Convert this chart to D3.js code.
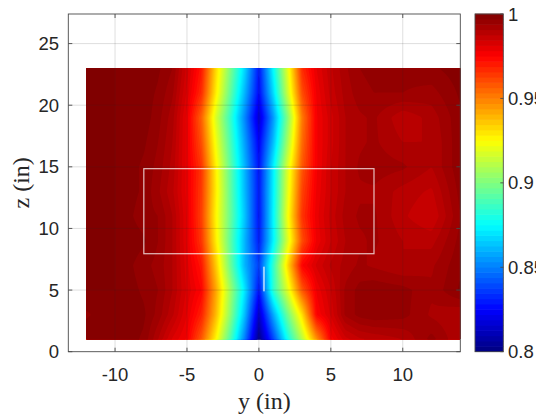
<!DOCTYPE html>
<html>
<head>
<meta charset="utf-8">
<script src="https://cdn.jsdelivr.net/npm/d3@7"></script>
<style>
  body { margin: 0; background: #fff; }
  svg { display: block; }
</style>
</head>
<body>
<script>
// Horizontal position y (in) of each measurement column
const yCols = [-12, -10, -8, -7, -6, -5, -4, -3, -2, -1, 0, 1, 2, 3, 4, 5, 6, 7, 8, 10, 12, 14];
// Height z (in) of each measurement row
const zRows = [1, 3, 5, 7, 9, 11, 13, 15, 17, 19, 21, 23];

// Normalised field value along each row, one entry per column in yCols
const rowZ1  = [1.000, 1.000, 0.997, 0.990, 0.982, 0.977, 0.958, 0.927, 0.891, 0.850, 0.802, 0.838, 0.878, 0.911, 0.946, 0.976, 0.984, 0.987, 0.988, 0.990, 0.996, 0.990];
const rowZ3  = [0.997, 1.000, 0.998, 0.994, 0.988, 0.980, 0.969, 0.939, 0.903, 0.863, 0.814, 0.858, 0.897, 0.931, 0.975, 0.983, 0.993, 0.996, 0.997, 0.996, 0.992, 0.990];
const rowZ5  = [1.000, 1.000, 0.997, 0.995, 0.990, 0.982, 0.975, 0.943, 0.907, 0.871, 0.828, 0.884, 0.919, 0.958, 0.978, 0.985, 0.993, 0.996, 0.997, 0.996, 0.993, 0.998];
const rowZ7  = [1.000, 1.000, 0.996, 0.994, 0.990, 0.981, 0.971, 0.936, 0.897, 0.861, 0.837, 0.885, 0.932, 0.975, 0.983, 0.988, 0.991, 0.993, 0.992, 0.990, 0.992, 0.997];
const rowZ9  = [1.000, 1.000, 0.998, 0.995, 0.990, 0.980, 0.965, 0.929, 0.894, 0.861, 0.830, 0.873, 0.918, 0.960, 0.978, 0.985, 0.990, 0.992, 0.993, 0.990, 0.989, 0.996];
const rowZ11 = [1.000, 1.000, 0.996, 0.995, 0.990, 0.980, 0.963, 0.927, 0.896, 0.864, 0.828, 0.874, 0.923, 0.965, 0.979, 0.986, 0.991, 0.993, 0.993, 0.988, 0.985, 0.995];
const rowZ13 = [1.000, 1.000, 0.997, 0.993, 0.988, 0.979, 0.964, 0.929, 0.895, 0.862, 0.829, 0.873, 0.920, 0.962, 0.978, 0.985, 0.990, 0.992, 0.992, 0.989, 0.987, 0.996];
const rowZ15 = [1.000, 1.000, 0.997, 0.994, 0.989, 0.979, 0.965, 0.928, 0.894, 0.861, 0.828, 0.872, 0.918, 0.958, 0.977, 0.985, 0.990, 0.993, 0.994, 0.993, 0.990, 0.997];
const rowZ17 = [1.000, 1.000, 0.998, 0.995, 0.990, 0.979, 0.960, 0.923, 0.890, 0.857, 0.824, 0.862, 0.908, 0.954, 0.977, 0.984, 0.990, 0.992, 0.993, 0.990, 0.990, 0.997];
const rowZ19 = [1.000, 1.000, 0.999, 0.996, 0.991, 0.979, 0.956, 0.918, 0.886, 0.852, 0.816, 0.855, 0.901, 0.951, 0.977, 0.984, 0.990, 0.992, 0.993, 0.988, 0.991, 0.997];
const rowZ21 = [1.000, 1.000, 0.999, 0.997, 0.993, 0.982, 0.967, 0.929, 0.895, 0.861, 0.826, 0.868, 0.915, 0.960, 0.978, 0.986, 0.991, 0.994, 0.995, 0.995, 0.994, 0.998];
const rowZ23 = [1.000, 1.000, 1.000, 0.998, 0.995, 0.984, 0.971, 0.933, 0.900, 0.868, 0.829, 0.875, 0.920, 0.967, 0.980, 0.987, 0.992, 0.995, 0.996, 0.996, 0.997, 0.999];

// Outlined region and short marker segment
const boxY = [-8, 8];
const boxZ = [7.95, 14.85];
const markerY = 0.35;
const markerZ = [4.9, 6.9];

// Axis ticks and colour range
const yTicks = [-10, -5, 0, 5, 10];
const zTicks = [0, 5, 10, 15, 20, 25];
const cTicks = [0.8, 0.85, 0.9, 0.95, 1];
const cRange = [0.8, 1];

const grid = [rowZ1, rowZ3, rowZ5, rowZ7, rowZ9, rowZ11, rowZ13, rowZ15, rowZ17, rowZ19, rowZ21, rowZ23];

const W = 536, H = 418;
const plot = { left: 68.3, right: 460.3, top: 14, bottom: 351.7 };
const cbar = { left: 475, right: 503.3, top: 14, bottom: 351.7 };

const svg = d3.select("body").append("svg").attr("width", W).attr("height", H);

const xs = d3.scaleLinear().domain([-13.25, 14]).range([plot.left, plot.right]);
const zs = d3.scaleLinear().domain([0, 27.4]).range([plot.bottom, plot.top]);

// MATLAB-style jet colormap
function jet(t) {
  const c = v => Math.max(0, Math.min(1, v));
  const r = c(1.5 - Math.abs(4 * t - 3));
  const g = c(1.5 - Math.abs(4 * t - 2));
  const b = c(1.5 - Math.abs(4 * t - 1));
  return d3.rgb(r * 255, g * 255, b * 255).toString();
}
const cScale = d3.scaleLinear().domain(cRange).range([0, 1]).clamp(true);
const colorOf = v => jet(cScale(v));

// Bilinear interpolation of the measured grid
function sample(y, z) {
  const clamp = (v, a, b) => Math.max(a, Math.min(b, v));
  const i = clamp(d3.bisectRight(yCols, y) - 1, 0, yCols.length - 2);
  const j = clamp(d3.bisectRight(zRows, z) - 1, 0, zRows.length - 2);
  const ty = clamp((y - yCols[i]) / (yCols[i + 1] - yCols[i]), 0, 1);
  const tz = clamp((z - zRows[j]) / (zRows[j + 1] - zRows[j]), 0, 1);
  const a = grid[j][i] * (1 - ty) + grid[j][i + 1] * ty;
  const b = grid[j + 1][i] * (1 - ty) + grid[j + 1][i + 1] * ty;
  return a * (1 - tz) + b * tz;
}

// Resample onto a fine raster and draw filled contours
const y0 = yCols[0], y1 = yCols[yCols.length - 1];
const z0 = zRows[0], z1 = zRows[zRows.length - 1];
const nx = 260, ny = 220;
const dy = (y1 - y0) / nx, dz = (z1 - z0) / ny;
const values = new Float64Array(nx * ny);
for (let r = 0; r < ny; r++) {
  const z = z0 + (r + 0.5) * dz;
  for (let c = 0; c < nx; c++) {
    values[r * nx + c] = sample(y0 + (c + 0.5) * dy, z);
  }
}

const step = 0.0025;
const levels = [0.7].concat(d3.range(0.8, 1.0 + step / 2, step));
const contours = d3.contours().size([nx, ny]).thresholds(levels)(values);

const proj = d3.geoTransform({
  point(px, py) { this.stream.point(xs(y0 + px * dy), zs(z0 + py * dz)); }
});
const path = d3.geoPath(proj);

svg.append("g").attr("class", "field")
  .selectAll("path")
  .data(contours)
  .join("path")
  .attr("d", path)
  .attr("fill", (d, k) => {
    const lo = d.value < 0.8 ? 0.8 : d.value;
    const hi = k + 1 < levels.length ? levels[k + 1] : 1.0;
    return colorOf(Math.min(1, (lo + Math.max(lo, hi)) / 2));
  })
  .attr("stroke", "none");

// Grid lines
const gridG = svg.append("g").attr("stroke", "rgb(38,38,38)").attr("stroke-opacity", 0.15).attr("stroke-width", 1);
gridG.selectAll("line.gx").data(yTicks).join("line")
  .attr("x1", d => xs(d)).attr("x2", d => xs(d))
  .attr("y1", plot.top).attr("y2", plot.bottom);
gridG.selectAll("line.gz").data(zTicks.filter(d => d > 0)).join("line")
  .attr("x1", plot.left).attr("x2", plot.right)
  .attr("y1", d => zs(d)).attr("y2", d => zs(d));

// Outlined region and marker
svg.append("rect")
  .attr("x", xs(boxY[0])).attr("y", zs(boxZ[1]))
  .attr("width", xs(boxY[1]) - xs(boxY[0]))
  .attr("height", zs(boxZ[0]) - zs(boxZ[1]))
  .attr("fill", "none").attr("stroke", "#ffffff").attr("stroke-opacity", 0.75).attr("stroke-width", 1.2);
svg.append("line")
  .attr("x1", xs(markerY)).attr("x2", xs(markerY))
  .attr("y1", zs(markerZ[0])).attr("y2", zs(markerZ[1]))
  .attr("stroke", "#ffffff").attr("stroke-opacity", 0.6).attr("stroke-width", 2);

// Axes box with inward ticks
const axisColor = "#4a4a4a";
svg.append("rect")
  .attr("x", plot.left).attr("y", plot.top)
  .attr("width", plot.right - plot.left).attr("height", plot.bottom - plot.top)
  .attr("fill", "none").attr("stroke", axisColor).attr("stroke-width", 0.9);

const tickLen = 4;
const tg = svg.append("g").attr("stroke", axisColor).attr("stroke-width", 0.9);
yTicks.forEach(t => {
  tg.append("line").attr("x1", xs(t)).attr("x2", xs(t)).attr("y1", plot.bottom).attr("y2", plot.bottom - tickLen);
  tg.append("line").attr("x1", xs(t)).attr("x2", xs(t)).attr("y1", plot.top).attr("y2", plot.top + tickLen);
});
zTicks.forEach(t => {
  tg.append("line").attr("x1", plot.left).attr("x2", plot.left + tickLen).attr("y1", zs(t)).attr("y2", zs(t));
  tg.append("line").attr("x1", plot.right).attr("x2", plot.right - tickLen).attr("y1", zs(t)).attr("y2", zs(t));
});

const tickFont = "'Liberation Sans', Arial, sans-serif";
const textColor = "#262626";
svg.append("g").selectAll("text").data(yTicks).join("text")
  .attr("x", d => xs(d)).attr("y", 380.5)
  .attr("text-anchor", "middle")
  .attr("font-family", tickFont).attr("font-size", 18.5).attr("fill", textColor)
  .text(d => d);
svg.append("g").selectAll("text").data(zTicks).join("text")
  .attr("x", 59).attr("y", d => zs(d) + 6.6)
  .attr("text-anchor", "end")
  .attr("font-family", tickFont).attr("font-size", 18.5).attr("fill", textColor)
  .text(d => d);

// Axis titles
const titleFont = "'Liberation Serif', 'Times New Roman', serif";
svg.append("text")
  .attr("x", (plot.left + plot.right) / 2).attr("y", 409)
  .attr("text-anchor", "middle")
  .attr("font-family", titleFont).attr("font-size", 24).attr("fill", textColor)
  .text("y (in)");
svg.append("text")
  .attr("transform", `translate(29,${(plot.top + plot.bottom) / 2}) rotate(-90)`)
  .attr("text-anchor", "middle")
  .attr("font-family", titleFont).attr("font-size", 24).attr("fill", textColor)
  .text("z (in)");

// Colour bar
const cy = d3.scaleLinear().domain(cRange).range([cbar.bottom, cbar.top]);
const nColors = 64;
const cbSteps = d3.range(nColors).map(k => cRange[0] + (cRange[1] - cRange[0]) * k / nColors);
const cbH = (cbar.bottom - cbar.top) / nColors;
svg.append("g").selectAll("rect").data(cbSteps).join("rect")
  .attr("x", cbar.left).attr("width", cbar.right - cbar.left)
  .attr("y", d => cy(d) - cbH - 0.3).attr("height", cbH + 0.6)
  .attr("fill", (d, k) => jet((k + 0.5) / nColors));
svg.append("rect")
  .attr("x", cbar.left).attr("y", cbar.top)
  .attr("width", cbar.right - cbar.left).attr("height", cbar.bottom - cbar.top)
  .attr("fill", "none").attr("stroke", axisColor).attr("stroke-width", 0.9);
svg.append("g").attr("stroke", axisColor).attr("stroke-width", 0.9)
  .selectAll("line").data(cTicks).join("line")
  .attr("x1", cbar.right).attr("x2", cbar.right - 3)
  .attr("y1", d => cy(d)).attr("y2", d => cy(d));
svg.append("g").selectAll("text").data(cTicks).join("text")
  .attr("x", 508).attr("y", d => cy(d) + 6.6)
  .attr("font-family", tickFont).attr("font-size", 18.5).attr("fill", textColor)
  .text(d => d);
</script>
</body>
</html>
